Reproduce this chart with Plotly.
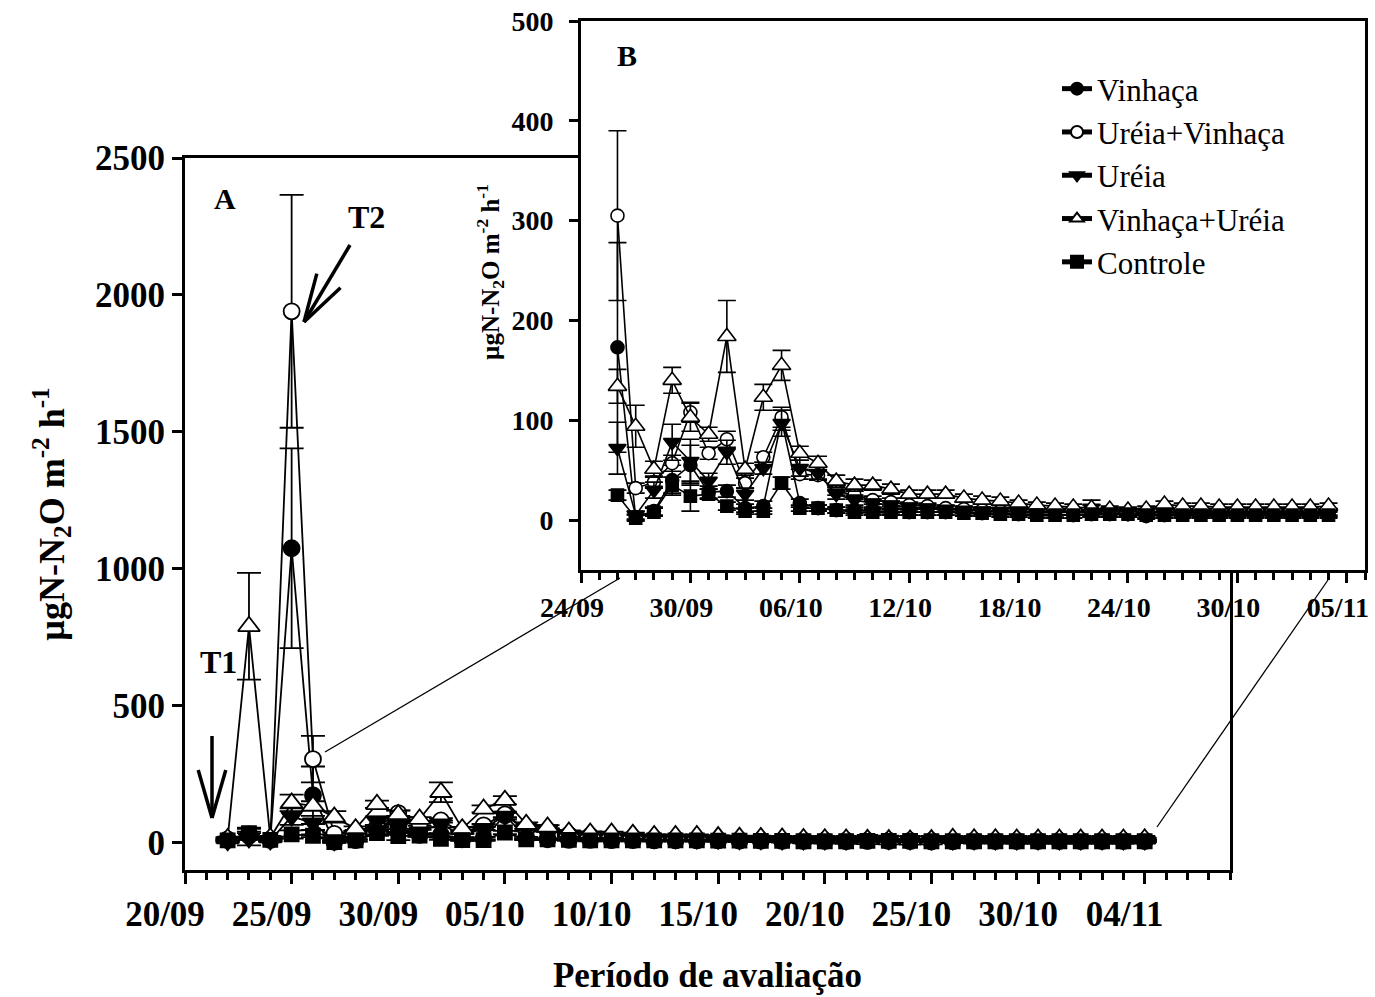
import plotly.graph_objects as go
import math

# ---------------- data ----------------
dates = [
    "2008-09-22", "2008-09-23", "2008-09-24", "2008-09-25", "2008-09-26", "2008-09-27",
    "2008-09-28", "2008-09-29", "2008-09-30",
    "2008-10-01", "2008-10-02", "2008-10-03", "2008-10-04", "2008-10-05", "2008-10-06",
    "2008-10-07", "2008-10-08", "2008-10-09", "2008-10-10",
    "2008-10-11", "2008-10-12", "2008-10-13", "2008-10-14", "2008-10-15", "2008-10-16",
    "2008-10-17", "2008-10-18", "2008-10-19", "2008-10-20",
    "2008-10-21", "2008-10-22", "2008-10-23", "2008-10-24", "2008-10-25", "2008-10-26",
    "2008-10-27", "2008-10-28", "2008-10-29", "2008-10-30",
    "2008-10-31", "2008-11-01", "2008-11-02", "2008-11-03", "2008-11-04",
]

vinhaca = [10, 30, 12, 1075, 173, 3, 9, 40, 55,
           28, 29, 12, 14, 100, 17, 12, 10, 10, 9,
           9, 8, 8, 8, 8, 7, 7, 6, 6, 6,
           5, 6, 6, 6, 6, 6, 6, 6, 6, 6,
           6, 6, 6, 6, 6]
vinhaca_err = [5, 20, 5, 365, 105, 3, 4, 15, 20,
               6, 6, 4, 5, 10, 4, 3, 3, 3, 3,
               3, 3, 3, 3, 3, 3, 3, 3, 3, 3,
               3, 3, 3, 3, 3, 3, 3, 3, 3, 3,
               3, 3, 3, 3, 3]

ureia_vinhaca = [12, 25, 10, 1940, 305, 32, 38, 57, 108,
                 67, 81, 37, 63, 103, 46, 45, 29, 25, 20,
                 18, 15, 14, 12, 11, 10, 9, 8, 8, 8,
                 8, 7, 7, 6, 4, 5, 7, 7, 7, 7,
                 7, 7, 7, 7, 7]
ureia_vinhaca_err = [5, 10, 5, 425, 85, 5, 6, 8, 10,
                     6, 8, 5, 5, 10, 5, 5, 4, 4, 4,
                     4, 3, 3, 3, 3, 3, 3, 3, 3, 3,
                     3, 3, 3, 3, 3, 3, 3, 3, 3, 3,
                     3, 3, 3, 3, 3]

ureia = [5, 15, 8, 95, 72, 5, 30, 78, 59,
         39, 68, 26, 52, 97, 52, 47, 26, 20, 17,
         15, 13, 12, 11, 10, 9, 9, 8, 8, 8,
         8, 12, 9, 8, 8, 8, 8, 8, 8, 8,
         8, 8, 8, 8, 8]
ureia_err = [5, 25, 5, 30, 26, 4, 8, 18, 22,
             8, 12, 6, 6, 13, 8, 6, 5, 5, 4,
             4, 4, 4, 3, 3, 3, 3, 3, 3, 3,
             3, 8, 3, 3, 3, 3, 3, 3, 3, 3,
             3, 3, 3, 3, 3]

vinhaca_ureia = [15, 790, 18, 145, 134, 94, 51, 140, 103,
                 86, 184, 51, 123, 155, 67, 57, 39, 35, 35,
                 31, 26, 26, 26, 22, 20, 19, 17, 15, 14,
                 13, 12, 11, 10, 11, 16, 14, 14, 13, 13,
                 13, 13, 13, 13, 14]
vinhaca_ureia_err = [5, 195, 5, 30, 17, 21, 8, 13, 14,
                     7, 36, 6, 13, 15, 7, 7, 6, 6, 5,
                     5, 4, 4, 4, 4, 4, 4, 3, 3, 3,
                     3, 3, 3, 3, 3, 3, 3, 3, 3, 3,
                     3, 3, 3, 3, 3]

controle = [8, 35, 10, 30, 25, 2, 8, 35, 24,
            26, 14, 9, 9, 37, 12, 12, 10, 8, 8,
            8, 8, 8, 8, 7, 7, 6, 6, 5, 5,
            5, 6, 6, 6, 5, 5, 5, 5, 5, 5,
            5, 5, 5, 5, 5]
controle_err = [4, 20, 4, 15, 5, 3, 4, 8, 15,
                5, 4, 3, 3, 6, 3, 3, 3, 3, 3,
                3, 3, 3, 3, 3, 3, 3, 3, 3, 3,
                3, 3, 3, 3, 3, 3, 3, 3, 3, 3,
                3, 3, 3, 3, 3]

series_names = ["Vinhaça", "Uréia+Vinhaça", "Uréia", "Vinhaça+Uréia", "Controle"]
series_values = [vinhaca, ureia_vinhaca, ureia, vinhaca_ureia, controle]
series_errors = [vinhaca_err, ureia_vinhaca_err, ureia_err, vinhaca_ureia_err, controle_err]

main_tickvals = ["2008-09-20", "2008-09-25", "2008-09-30", "2008-10-05", "2008-10-10",
                 "2008-10-15", "2008-10-20", "2008-10-25", "2008-10-30", "2008-11-04"]
main_ticktext = ["20/09", "25/09", "30/09", "05/10", "10/10",
                 "15/10", "20/10", "25/10", "30/10", "04/11"]
inset_tickvals = ["2008-09-24", "2008-09-30", "2008-10-06", "2008-10-12",
                  "2008-10-18", "2008-10-24", "2008-10-30", "2008-11-05"]
inset_ticktext = ["24/09", "30/09", "06/10", "12/10", "18/10", "24/10", "30/10", "05/11"]
main_y_ticks = [0, 500, 1000, 1500, 2000, 2500]
inset_y_ticks = [0, 100, 200, 300, 400, 500]
inset_start = 4  # inset shows data from 26/09 on

# ---------------- styles ----------------
W, H = 1375, 997
FONT = "Liberation Serif"
styles = {
    "Vinhaça": dict(symbol="circle", fill="black", main=16, inset=13),
    "Uréia+Vinhaça": dict(symbol="circle", fill="white", main=16, inset=13),
    "Uréia": dict(symbol="triangle-down", fill="black", main=18, inset=15),
    "Vinhaça+Uréia": dict(symbol="triangle-up", fill="white", main=19, inset=16),
    "Controle": dict(symbol="square", fill="black", main=14, inset=12),
}


def px_x(p):
    return p / W


def px_y(p):
    return 1 - p / H


fig = go.Figure()

for name, vals, errs in zip(series_names, series_values, series_errors):
    st = styles[name]
    fig.add_trace(go.Scatter(
        x=dates, y=vals, mode="lines+markers", name=name, showlegend=False,
        xaxis="x", yaxis="y",
        line=dict(color="black", width=1.8),
        marker=dict(symbol=st["symbol"], size=st["main"], color=st["fill"],
                    line=dict(color="black", width=1.8)),
        error_y=dict(type="data", array=errs, color="black", thickness=1.8, width=12),
    ))

for name, vals, errs in zip(series_names, series_values, series_errors):
    st = styles[name]
    fig.add_trace(go.Scatter(
        x=dates[inset_start:], y=vals[inset_start:], mode="lines+markers", name=name,
        showlegend=True, xaxis="x2", yaxis="y2",
        line=dict(color="black", width=1.6),
        marker=dict(symbol=st["symbol"], size=st["inset"], color=st["fill"],
                    line=dict(color="black", width=1.6)),
        error_y=dict(type="data", array=errs[inset_start:], color="black", thickness=1.6, width=9),
    ))

tickfont_main = dict(family=FONT, size=35, color="black", weight="bold")
tickfont_inset = dict(family=FONT, size=28, color="black", weight="bold")
day_ms = 86400000

fig.update_layout(
    width=W, height=H,
    margin=dict(l=0, r=0, t=0, b=0),
    template="none",
    paper_bgcolor="white", plot_bgcolor="white",
    font=dict(family=FONT, color="black"),
    xaxis=dict(
        domain=[px_x(185), px_x(1230)], anchor="y", type="date",
        range=["2008-09-20", "2008-11-08"],
        tickmode="array", tickvals=main_tickvals, ticktext=main_ticktext,
        ticks="outside", ticklen=11, tickwidth=3, tickcolor="black",
        minor=dict(ticks="outside", dtick=day_ms, tick0="2008-09-20",
                   ticklen=7, tickwidth=3, tickcolor="black", showgrid=False),
        showline=True, linewidth=3, linecolor="black", mirror=True,
        showgrid=False, zeroline=False, automargin=False,
        tickfont=tickfont_main, ticklabeloverflow="allow", ticklabelshift=-20,
        title=dict(text="Período de avaliação", standoff=30,
                   font=dict(family=FONT, size=35, color="black", weight="bold")),
    ),
    yaxis=dict(
        domain=[px_y(870), px_y(158)], anchor="x",
        range=[-100, 2500],
        tickmode="array", tickvals=main_y_ticks,
        ticks="outside", ticklen=10, tickwidth=3, tickcolor="black",
        showline=True, linewidth=3, linecolor="black", mirror=True,
        showgrid=False, zeroline=False, automargin=False,
        tickfont=tickfont_main, ticklabeloverflow="allow",
        title=dict(text="µgN-N<sub>2</sub>O m<sup>-2</sup> h<sup>-1</sup>", standoff=20,
                   font=dict(family=FONT, size=36, color="black", weight="bold")),
    ),
    xaxis2=dict(
        domain=[px_x(581), px_x(1365)], anchor="y2", type="date",
        range=["2008-09-24", "2008-11-06"],
        tickmode="array", tickvals=inset_tickvals, ticktext=inset_ticktext,
        ticks="outside", ticklen=10, tickwidth=3, tickcolor="black",
        minor=dict(ticks="outside", dtick=day_ms, tick0="2008-09-24",
                   ticklen=7, tickwidth=3, tickcolor="black", showgrid=False),
        showline=True, linewidth=3, linecolor="black", mirror=True,
        showgrid=False, zeroline=False, automargin=False,
        tickfont=tickfont_inset, ticklabeloverflow="allow", ticklabelshift=-9,
    ),
    yaxis2=dict(
        domain=[px_y(570), px_y(21)], anchor="x2",
        range=[-50, 500],
        tickmode="array", tickvals=inset_y_ticks,
        ticks="outside", ticklen=9, tickwidth=3, tickcolor="black",
        ticklabelstandoff=10,
        showline=True, linewidth=3, linecolor="black", mirror=True,
        showgrid=False, zeroline=False, automargin=False,
        tickfont=tickfont_inset, ticklabeloverflow="allow",
    ),
    legend=dict(
        x=px_x(1057), y=px_y(62), xanchor="left", yanchor="top",
        bgcolor="rgba(0,0,0,0)", borderwidth=0,
        font=dict(family=FONT, size=31, color="black"),
        itemsizing="constant", tracegroupgap=0,
    ),
    showlegend=True,
)


def label(text, px, py, size=32):
    return dict(text=text, x=px_x(px), y=px_y(py), xref="paper", yref="paper",
                xanchor="center", yanchor="middle", showarrow=False,
                font=dict(family=FONT, size=size, color="black", weight="bold"))


annotations = [
    label("A", 225, 198, 30),
    label("B", 627, 55, 30),
    label("T1", 218, 662, 32),
    label("T2", 366, 217, 32),
    dict(text="µgN-N<sub>2</sub>O m<sup>-2</sup> h<sup>-1</sup>", textangle=-90,
         x=px_x(490), y=px_y(272), xref="paper", yref="paper", showarrow=False,
         xanchor="center", yanchor="middle",
         font=dict(family=FONT, size=25, color="black", weight="bold")),
]
fig.update_layout(annotations=annotations)


def arrow_shapes(tip, tail, arm_len=50, arm_deg=16, width=3.5):
    """Open V-shaped arrow (paper pixel coordinates)."""
    tx, ty = tip
    dx, dy = tail[0] - tx, tail[1] - ty
    n = math.hypot(dx, dy)
    ux, uy = dx / n, dy / n
    out = [dict(type="line", xref="paper", yref="paper",
                x0=px_x(tail[0]), y0=px_y(tail[1]), x1=px_x(tx), y1=px_y(ty),
                line=dict(color="black", width=width))]
    for s in (1, -1):
        a = math.radians(arm_deg) * s
        ax = ux * math.cos(a) - uy * math.sin(a)
        ay = ux * math.sin(a) + uy * math.cos(a)
        out.append(dict(type="line", xref="paper", yref="paper",
                        x0=px_x(tx + ax * arm_len), y0=px_y(ty + ay * arm_len),
                        x1=px_x(tx), y1=px_y(ty),
                        line=dict(color="black", width=width)))
    return out


shapes = [
    dict(type="line", xref="paper", yref="paper", x0=px_x(325), y0=px_y(752),
         x1=px_x(620), y1=px_y(578), line=dict(color="black", width=1.3)),
    dict(type="line", xref="paper", yref="paper", x0=px_x(1157), y0=px_y(827),
         x1=px_x(1328), y1=px_y(580), line=dict(color="black", width=1.3)),
]
shapes += arrow_shapes((212, 818), (212, 736))
shapes += arrow_shapes((304, 322), (350, 245))
fig.update_layout(shapes=shapes)

fig.write_html("out.html")
